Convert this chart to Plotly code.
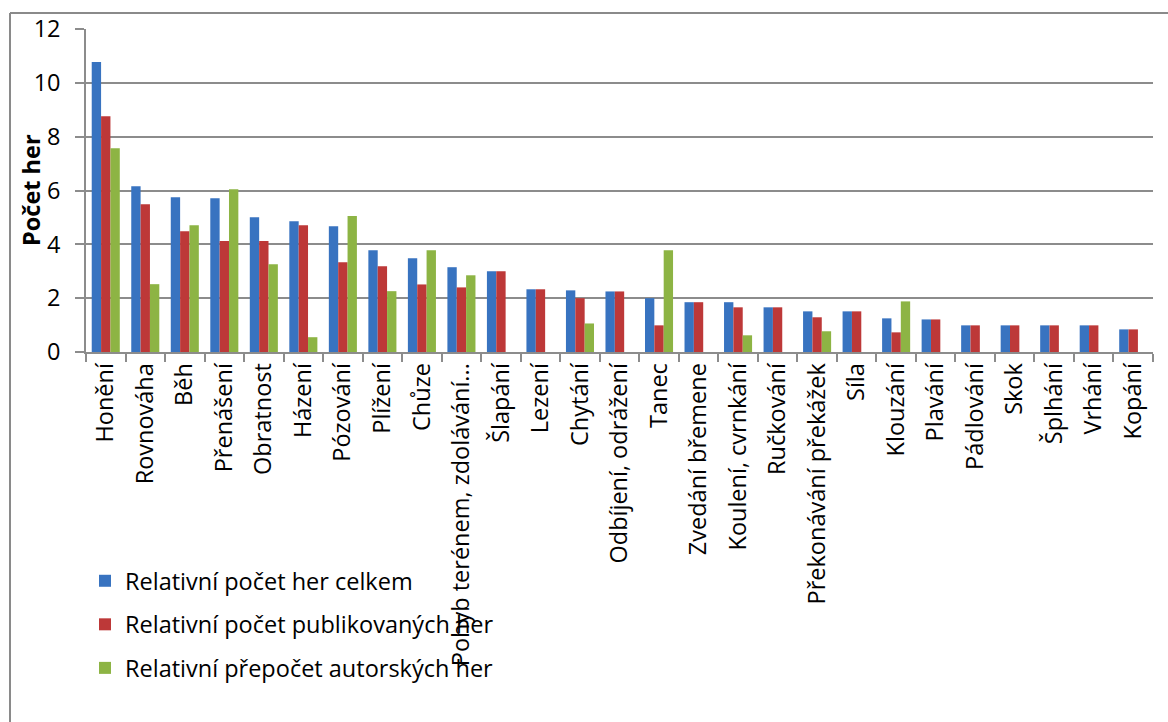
import plotly.graph_objects as go

categories = ["Honění", "Rovnováha", "Běh", "Přenášení", "Obratnost", "Házení", "Pózování",
              "Plížení", "Chůze", "Pohyb terénem, zdolávání...", "Šlapání", "Lezení", "Chytání",
              "Odbíjení, odrážení", "Tanec", "Zvedání břemene", "Koulení, cvrnkání", "Ručkování",
              "Překonávání překážek", "Síla", "Klouzání", "Plavání", "Pádlování", "Skok",
              "Šplhání", "Vrhání", "Kopání"]

celkem = [10.77, 6.16, 5.75, 5.71, 5.01, 4.86, 4.67, 3.78, 3.48, 3.15, 3.0, 2.33, 2.29,
          2.25, 2.0, 1.85, 1.85, 1.66, 1.51, 1.51, 1.25, 1.21, 0.99, 0.99, 0.99, 0.99, 0.84]
publikovane = [8.76, 5.49, 4.49, 4.12, 4.12, 4.71, 3.33, 3.19, 2.51, 2.40, 3.0, 2.33, 2.0,
               2.25, 0.99, 1.85, 1.66, 1.66, 1.29, 1.51, 0.73, 1.21, 0.99, 0.99, 0.99, 0.99, 0.84]
autorske = [7.57, 2.52, 4.71, 6.05, 3.26, 0.55, 5.05, 2.26, 3.78, 2.85, None, None, 1.06,
            None, 3.78, None, 0.62, None, 0.77, None, 1.88, None, None, None, None, None, None]

series_names = ["Relativní počet her celkem", "Relativní počet publikovaných her",
                "Relativní přepočet autorských her"]
y_ticks = [0, 2, 4, 6, 8, 10, 12]
y_title = "Počet her"

FONT = "Open Sans"
FS = 23.5
W, H = 1168, 722
ML, MR, MT, MB = 86, 15, 29, 370
PW = W - ML - MR
PH = H - MT - MB

def px_x(p):
    return (p - ML) / PW

def px_y(p):
    return (H - MB - p) / PH

colors = ["#3873c0", "#bd3838", "#8db444"]
fig = go.Figure()
for i, (name, vals) in enumerate(zip(series_names, [celkem, publikovane, autorske])):
    fig.add_trace(go.Bar(x=categories, y=vals, name=name, marker_color=colors[i],
                         marker_line_width=0, legendgroup=f"g{i}"))

grid = "#8c8c8c"
fig.update_layout(
    width=W, height=H,
    margin=dict(l=ML, r=MR, t=MT, b=MB, autoexpand=False),
    paper_bgcolor="white", plot_bgcolor="white",
    barmode="group", bargap=0.29, bargroupgap=0,
    font=dict(family=FONT, size=FS, color="black"),
    legend=dict(x=px_x(85), y=px_y(559), xanchor="left", yanchor="top",
                orientation="v", tracegroupgap=10, font=dict(size=FS, family=FONT),
                bgcolor="rgba(0,0,0,0)"),
    showlegend=True,
)
fig.update_xaxes(
    type="category", tickangle=-90, showline=True, linecolor=grid, linewidth=1.5,
    ticks="outside", tickson="boundaries", ticklen=8, tickcolor=grid, tickwidth=1.5,
    showgrid=False, automargin=False, tickfont=dict(size=FS, family=FONT),
)
fig.update_yaxes(
    range=[0, 12], tickvals=y_ticks, showgrid=True, gridcolor=grid, gridwidth=1.5,
    showline=True, linecolor=grid, linewidth=1.5, ticks="outside", ticklen=9,
    tickcolor=grid, tickwidth=1.5, zeroline=False, automargin=False,
    ticklabelstandoff=10,
    tickfont=dict(size=FS, family=FONT),
)
fig.add_annotation(text=f"<b>{y_title}</b>", textangle=-90, xref="paper", yref="paper",
                   x=px_x(31), y=px_y(190), xanchor="center", yanchor="middle",
                   showarrow=False, font=dict(size=FS, family=FONT, color="black"))
# outer frame (top and left edges visible)
fig.add_shape(type="line", xref="paper", yref="paper", x0=px_x(10), x1=px_x(1168),
              y0=px_y(13), y1=px_y(13), line=dict(color="#8a8a8a", width=2))
fig.add_shape(type="line", xref="paper", yref="paper", x0=px_x(10), x1=px_x(10),
              y0=px_y(13), y1=px_y(722), line=dict(color="#8a8a8a", width=2))

fig.write_html("out.html")
